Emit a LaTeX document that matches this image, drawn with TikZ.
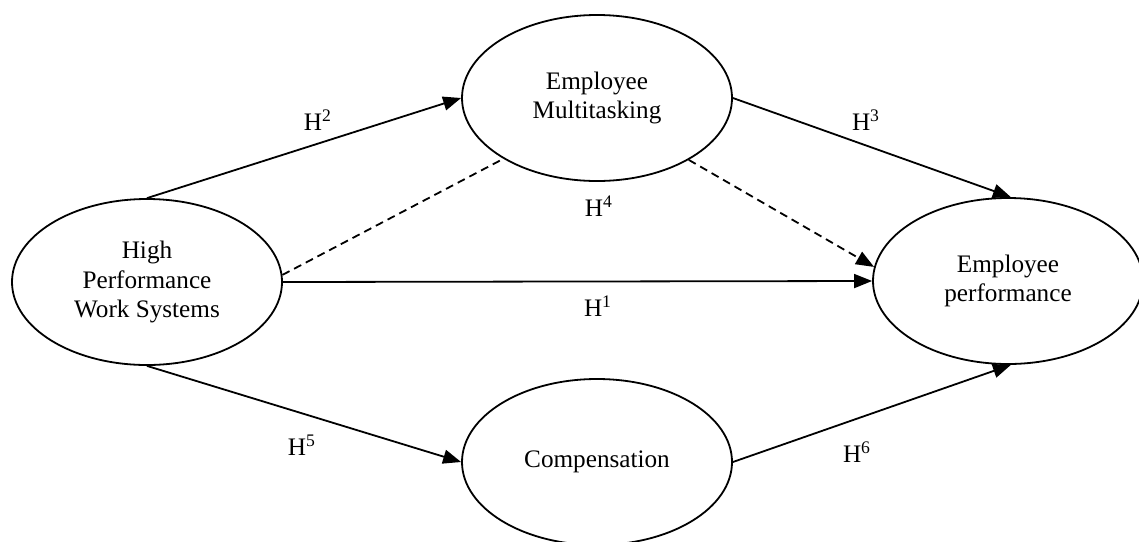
\documentclass[tikz,border=0pt]{standalone}
\usepackage{fontspec}
\setmainfont{Liberation Serif}
\usetikzlibrary{arrows.meta,shapes.geometric}
\tikzset{
  construct/.style={draw, line width=0.9pt, ellipse, minimum width=135pt, minimum height=83pt, inner sep=0pt, align=center, font=\fontsize{12.6}{14.6}\selectfont},
  path/.style={line width=0.9pt, -{Triangle[length=9pt,width=7pt]}},
  dline/.style={line width=0.9pt, dash pattern=on 4pt off 2.6pt},
  dpath/.style={path, dash pattern=on 4pt off 2.6pt},
  hlabel/.style={font=\fontsize{12.6}{14.6}\selectfont, inner sep=0pt}
}
\begin{document}
\begin{tikzpicture}[x=0.5pt,y=-0.5pt]
\useasboundingbox (0,0) rectangle (1139,541);
\node[construct] (hp) at (147,282) {High\\Performance\\Work Systems};
\node[construct] (mt) at (597,98) {Employee\\Multitasking};
\node[construct] (ep) at (1008,281) {Employee\\performance};
\node[construct] (cp) at (597,462) {Compensation};
\draw[path] (hp.north) -- (mt.west);
\draw[path] (mt.east) -- (ep.88);
\draw[path] (hp.east) -- (ep.west);
\draw[path] (hp.south) -- (cp.west);
\draw[path] (cp.east) -- (ep.272);
\draw[dline] (hp.3) -- (mt.213);
\draw[dpath] (mt.326) -- (ep.174);
\node[hlabel] (h2) at (318,120) {H\textsuperscript{2}};
\node[hlabel] (h3) at (866,120) {H\textsuperscript{3}};
\node[hlabel] (h4) at (599,206) {H\textsuperscript{4}};
\node[hlabel] (h1) at (598,306) {H\textsuperscript{1}};
\node[hlabel] (h5) at (302,445) {H\textsuperscript{5}};
\node[hlabel] (h6) at (857,452) {H\textsuperscript{6}};
\end{tikzpicture}
\end{document}
